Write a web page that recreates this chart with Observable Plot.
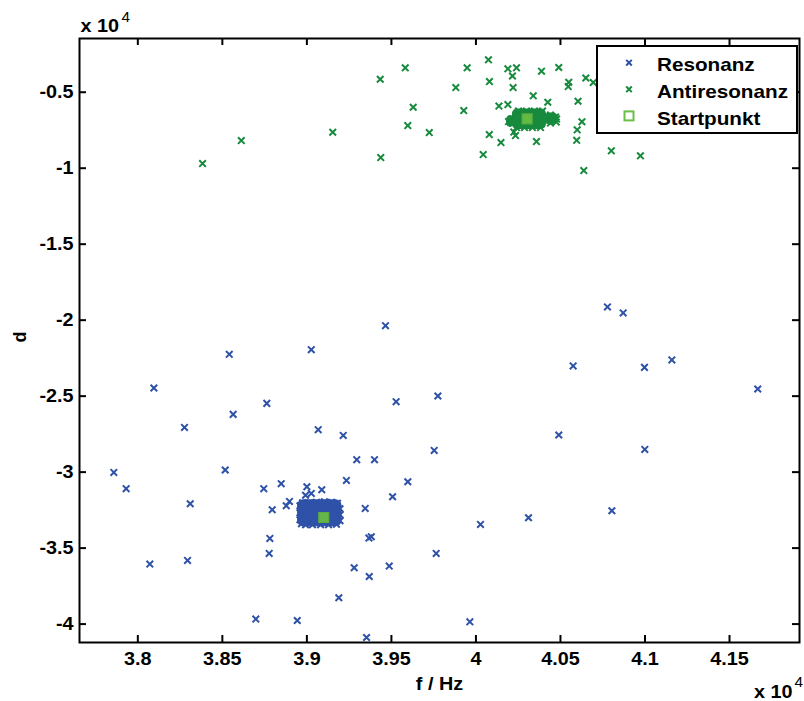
<!DOCTYPE html>
<html><head><meta charset="utf-8">
<script src="https://cdn.jsdelivr.net/npm/d3@7"></script>
<script src="https://cdn.jsdelivr.net/npm/@observablehq/plot@0.6"></script>
<style>
html,body{margin:0;padding:0;background:#fff;overflow:hidden}
#wrap{position:relative;width:804px;height:701px}
#legend{position:absolute;left:596px;top:45px}
</style></head><body><div id="wrap"></div>
<script>
// ---- Data (f in Hz, d) ----
// Resonanz: scattered estimates
const resF = [37858,38095,38276,38541,38564,38517,38763,39026,39067,39215,39295,39400,39465,39528,39234,40778,40871,40575,40997,41159,41667,39775,40490,39753,40999,39597,37931,38310,38071,38294,38745,38848,38795,38878,38897,38781,38777,39000,39026,39088,39345,39507,39367,39381,39280,39369,39487,39189,38698,38943,39353,39765,40027,40311,40804,39964,38992];
const resD = [-30020,-24462,-27056,-22250,-26200,-29861,-25476,-21941,-27208,-27583,-29183,-29183,-20361,-25364,-30546,-19129,-19524,-23014,-23106,-22619,-24528,-24989,-27557,-28571,-28505,-30632,-31092,-32080,-36050,-35813,-31092,-30763,-32475,-32212,-31929,-34365,-35352,-30961,-31402,-31158,-32389,-31619,-34338,-34252,-36294,-36867,-36182,-38269,-39671,-39764,-40883,-35352,-33443,-33002,-32541,-39849,-31520];
// Resonanz: dense cluster (outer points)
const resClusterF = [38959,38959,38959,38968,38992,39033,39081,39128,39175,39196,39196,39196,39181,39146,39104,39057,39016,38974];
const resClusterD = [-32212,-32673,-33134,-33397,-33463,-33463,-33463,-33463,-33430,-33200,-32805,-32410,-32048,-31982,-31949,-31982,-32015,-32015];
// Resonanz cluster body extent
const resCoreF1 = [38945], resCoreF2 = [39208];
const resCoreD1 = [-31817], resCoreD2 = [-33595];

// Antiresonanz: scattered estimates
const antiF = [38383,38612,39153,39434,39437,39582,39629,39597,39724,39881,39948,39928,40074,40080,40189,40240,40216,40220,40136,40189,40079,40148,40043,40388,40490,40339,40425,40549,40546,40650,40694,40604,40627,40599,40596,40358,40224,40234,40471,40475,40801,40973,40638];
const antiD = [-9694,-8180,-7634,-4144,-9299,-3394,-5988,-7192,-7653,-4691,-3394,-6205,-2867,-4296,-3459,-3394,-3933,-4691,-5909,-5810,-7785,-8312,-9102,-3617,-3374,-5237,-5658,-4342,-4625,-4065,-4361,-5593,-6942,-7476,-8167,-8246,-7621,-7851,-6633,-6962,-8858,-9187,-10155];
// Antiresonanz: dense cluster (outer points)
const antiClusterF = [40252,40299,40346,40394,40240,40287,40334,40382,40193,40477,40441,40441];
const antiClusterD = [-6238,-6238,-6238,-6238,-7324,-7324,-7324,-7324,-6929,-6765,-6501,-7028];
// Antiresonanz cluster body extents (main, left tail, right taper)
const antiCoreF1 = [40216,40181,40406], antiCoreF2 = [40417,40228,40488];
const antiCoreD1 = [-6106,-6534,-6369], antiCoreD2 = [-7456,-7324,-7160];

// Startpunkt
const startF = [39100,40303];
const startD = [-32982,-6751];

// Ticks
const xTicks = [38000,38500,39000,39500,40000,40500,41000,41500];
const xTickLabels = ["3.8","3.85","3.9","3.95","4","4.05","4.1","4.15"];
const yTicks = [-5000,-10000,-15000,-20000,-25000,-30000,-35000,-40000];
const yTickLabels = ["-0.5","-1","-1.5","-2","-2.5","-3","-3.5","-4"];

const seriesNames = ["Resonanz","Antiresonanz","Startpunkt"];
const xLabel = "f / Hz", yLabel = "d", expBase = "x 10", expPow = "4";

// ---- Build ----
const BLUE = "#2f52a8", GREEN = "#178a3d", LIGHT = "#6abf45";
const FONT = "'Liberation Sans', Arial, Helvetica, sans-serif";
const pts = (F, D) => F.map((f, i) => ({f, d: D[i]}));
const rects = (F1, F2, D1, D2) => F1.map((f1, i) => ({f1, f2: F2[i], d1: D1[i], d2: D2[i]}));
const xLab = new Map(xTicks.map((t, i) => [t, xTickLabels[i]]));
const yLab = new Map(yTicks.map((t, i) => [t, yTickLabels[i]]));

const W = 804, H = 701, mL = 79, mR = 5, mT = 38, mB = 59;
const pw = W - mL - mR, ph = H - mT - mB, tk = 7;

const plot = Plot.plot({
  width: W, height: H, marginLeft: mL, marginRight: mR, marginTop: mT, marginBottom: mB,
  style: {fontFamily: FONT, fontSize: "18px", fontWeight: "bold", color: "#000", background: "#fff"},
  x: {domain: [37655, 41914]},
  y: {domain: [-41212, -1464]},
  marks: [
    Plot.rect(rects(resCoreF1, resCoreF2, resCoreD1, resCoreD2), {x1: "f1", x2: "f2", y1: "d1", y2: "d2", fill: BLUE, rx: 6}),
    Plot.dot(pts(resClusterF, resClusterD), {x: "f", y: "d", symbol: "times", r: 3.1, stroke: BLUE, strokeWidth: 2}),
    Plot.dot(pts(resF, resD), {x: "f", y: "d", symbol: "times", r: 3.1, stroke: BLUE, strokeWidth: 2}),
    Plot.rect(rects(antiCoreF1, antiCoreF2, antiCoreD1, antiCoreD2), {x1: "f1", x2: "f2", y1: "d1", y2: "d2", fill: GREEN, rx: 5}),
    Plot.dot(pts(antiClusterF, antiClusterD), {x: "f", y: "d", symbol: "times", r: 3.1, stroke: GREEN, strokeWidth: 2}),
    Plot.dot(pts(antiF, antiD), {x: "f", y: "d", symbol: "times", r: 3.1, stroke: GREEN, strokeWidth: 2}),
    Plot.dot(pts(startF, startD), {x: "f", y: "d", symbol: "square", r: 5.6, fill: LIGHT, fillOpacity: 0.92, stroke: "#5cae3c", strokeWidth: 1.2}),
    Plot.frame({stroke: "#000", strokeWidth: 2}),
    Plot.ruleX(xTicks, {x: d => d, insetTop: ph - tk, stroke: "#000", strokeWidth: 2}),
    Plot.ruleX(xTicks, {x: d => d, insetBottom: ph - tk, stroke: "#000", strokeWidth: 2}),
    Plot.ruleY(yTicks, {y: d => d, insetRight: pw - tk, stroke: "#000", strokeWidth: 2}),
    Plot.ruleY(yTicks, {y: d => d, insetLeft: pw - tk, stroke: "#000", strokeWidth: 2}),
    Plot.axisX({ticks: xTicks, tickFormat: d => xLab.get(d), tickSize: 0, tickPadding: 10, label: null}),
    Plot.axisY({ticks: yTicks, tickFormat: d => yLab.get(d), tickSize: 0, tickPadding: 6, label: null}),
    Plot.text([xLabel], {text: d => d, frameAnchor: "bottom", lineAnchor: "top", dy: 35, fontSize: 18, fontWeight: "bold"}),
    Plot.text([yLabel], {text: d => d, frameAnchor: "left", rotate: -90, dx: -59, dy: 2, fontSize: 18, fontWeight: "bold"}),
    Plot.text([expBase], {text: d => d, frameAnchor: "top-left", textAnchor: "start", lineAnchor: "bottom", dx: 1, dy: -6.5, fontSize: 18, fontWeight: "bold"}),
    Plot.text([expPow], {text: d => d, frameAnchor: "top-left", textAnchor: "start", lineAnchor: "bottom", dx: 42, dy: -16.5, fontSize: 14, fontWeight: "normal"}),
    Plot.text([expBase], {text: d => d, frameAnchor: "bottom-right", textAnchor: "end", lineAnchor: "bottom", dx: -7, dy: 55, fontSize: 18, fontWeight: "bold"}),
    Plot.text([expPow], {text: d => d, frameAnchor: "bottom-right", textAnchor: "start", lineAnchor: "bottom", dx: -5, dy: 44, fontSize: 14, fontWeight: "normal"})
  ]
});

// slightly widen glyphs, as in the reference
plot.querySelectorAll("text").forEach(t => {
  const tr = t.getAttribute("transform");
  if (tr && tr.includes("translate") && !tr.includes("rotate")) t.setAttribute("transform", tr + " scale(1.1,1)");
});

const wrap = document.getElementById("wrap");
wrap.appendChild(plot);

// Legend
const legendColors = [BLUE, GREEN, LIGHT];
const lg = document.createElement("div");
lg.id = "legend";
let s = `<svg width="202" height="89" xmlns="http://www.w3.org/2000/svg" style="font-family:${FONT};font-weight:bold;font-size:18px">`;
s += `<rect x="1" y="1" width="200" height="87" fill="#fff" stroke="#000" stroke-width="2"/>`;
seriesNames.forEach((name, i) => {
  const cy = 17.7 + i * 26.6, by = 26 + i * 27;
  if (i < 2) {
    s += `<path transform="translate(33,${cy})" d="M-2.8,-2.8L2.8,2.8M-2.8,2.8L2.8,-2.8" stroke="${legendColors[i]}" stroke-width="2" fill="none"/>`;
  } else {
    s += `<rect x="28.5" y="${cy - 4.5}" width="9" height="9" fill="none" stroke="${legendColors[i]}" stroke-width="2"/>`;
  }
  s += `<text transform="translate(61,${by}) scale(1.15,1)" fill="#000">${name}</text>`;
});
s += `</svg>`;
lg.innerHTML = s;
wrap.appendChild(lg);
</script></body></html>
